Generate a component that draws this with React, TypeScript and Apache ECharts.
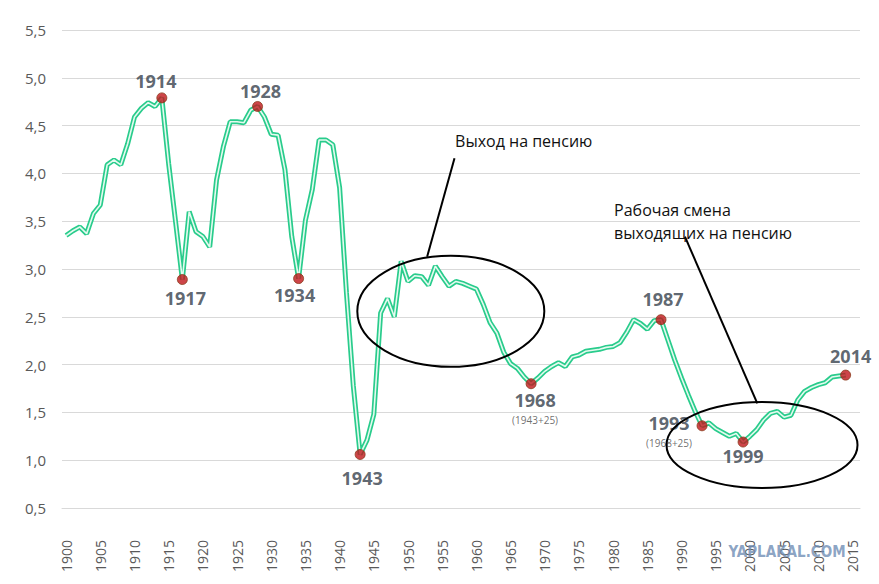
import React, { useEffect, useRef } from "react";
import * as echarts from "echarts";

const FIRST_YEAR = 1900;
const fertility = [
  3.35, 3.40, 3.44, 3.37, 3.58, 3.67, 4.09, 4.14, 4.09, 4.31, // 1900-1909
  4.59, 4.68, 4.74, 4.70, 4.79, 4.10, 3.50, 2.89, 3.60, 3.39, // 1910-1919
  3.34, 3.23, 3.93, 4.28, 4.54, 4.54, 4.53, 4.66, 4.70, 4.59, // 1920-1929
  4.41, 4.40, 4.04, 3.34, 2.90, 3.51, 3.83, 4.35, 4.35, 4.30, // 1930-1939
  3.85, 2.75, 1.78, 1.06, 1.21, 1.48, 2.54, 2.69, 2.50, 3.08, // 1940-1949
  2.87, 2.93, 2.92, 2.83, 3.03, 2.92, 2.82, 2.87, 2.85, 2.82, // 1950-1959
  2.79, 2.63, 2.44, 2.33, 2.13, 2.01, 1.96, 1.87, 1.80, 1.86, // 1960-1969
  1.93, 1.98, 2.02, 1.98, 2.08, 2.10, 2.14, 2.15, 2.16, 2.18, // 1970-1979
  2.19, 2.23, 2.34, 2.47, 2.43, 2.37, 2.46, 2.47, 2.26, 2.05, // 1980-1989
  1.86, 1.68, 1.51, 1.36, 1.39, 1.33, 1.29, 1.25, 1.28, 1.19, // 1990-1999
  1.25, 1.32, 1.42, 1.49, 1.51, 1.45, 1.47, 1.63, 1.72, 1.76, // 2000-2009
  1.79, 1.81, 1.87, 1.88, 1.89, // 2010-2014
];
const years = fertility.map((_, i) => FIRST_YEAR + i);

const highlightYears = [1914, 1917, 1928, 1934, 1943, 1968, 1987, 1993, 1999, 2014];
const highlightNotes: Record<number, string> = { 1968: "(1943+25)", 1993: "(1968+25)" };

const xTickLabels = [
  1900, 1905, 1910, 1915, 1920, 1925, 1930, 1935, 1940, 1945, 1950, 1955,
  1960, 1965, 1970, 1975, 1980, 1985, 1990, 1995, 2000, 2005, 2010, 2015,
];

const annotation1 = "Выход на пенсию";
const annotation2 = ["Рабочая смена", "выходящих на пенсию"];
const watermark = "YAPLAKAL.COM";

// label placement (style only): offset of label centre from the dot
const labelOffsets: Record<number, [number, number]> = {
  1914: [-6, -17],
  1917: [3, 18],
  1928: [3, -15],
  1934: [-4, 16],
  1943: [2, 24],
  1968: [4, 25],
  1987: [2, -21],
  1993: [-33, 6],
  1999: [0, 14],
  2014: [5, -19],
};

const FONT = "'Open Sans', 'Noto Sans', sans-serif";

export default function App() {
  const ref = useRef<HTMLDivElement>(null);
  useEffect(() => {
    if (!ref.current) return;
    const chart = echarts.init(ref.current, null, { renderer: "svg" });
    const lineData = years.map((y, i) => [y, fertility[i]]);
    const scatterData = highlightYears.map((y) => ({
      value: [y, fertility[y - FIRST_YEAR]],
      label: { offset: labelOffsets[y] },
    }));
    chart.setOption({
      animation: false,
      backgroundColor: "#ffffff",
      grid: { left: 62, right: 19, top: 30, bottom: 76 },
      xAxis: {
        type: "value",
        min: 1899.4,
        max: 2016.1,
        axisLine: { show: true, lineStyle: { color: "#d9d9d9", width: 1 } },
        axisTick: { show: false },
        splitLine: { show: false },
        axisLabel: {
          customValues: xTickLabels,
          rotate: 90,
          margin: 32,
          color: "#595959",
          fontSize: 14,
          fontFamily: FONT,
          formatter: (v: number) => String(Math.round(v)),
        },
      },
      yAxis: {
        type: "value",
        min: 0.5,
        max: 5.5,
        interval: 0.5,
        axisLine: { show: false },
        axisTick: { show: false },
        splitLine: { lineStyle: { color: "#d9d9d9", width: 1 } },
        axisLabel: {
          margin: 16,
          color: "#595959",
          fontSize: 15,
          fontFamily: FONT,
          formatter: (v: number) => v.toFixed(1).replace(".", ","),
        },
      },
      series: [
        {
          type: "line",
          data: lineData,
          symbol: "none",
          lineStyle: { color: "#29cc8c", width: 5 },
          z: 2,
        },
        {
          type: "line",
          data: lineData,
          symbol: "none",
          lineStyle: { color: "#e4faef", width: 1.6 },
          z: 3,
        },
        {
          type: "scatter",
          data: scatterData,
          symbolSize: 10,
          itemStyle: { color: "#c0161c", borderColor: "#8a3a1a", borderWidth: 1 },
          z: 5,
          label: {
            show: true,
            position: "inside",
            align: "center",
            verticalAlign: "middle",
            formatter: (p: any) => {
              const y = p.value[0];
              const note = highlightNotes[y];
              return note ? `{b|${y}}\n{s|${note}}` : `{b|${y}}`;
            },
            rich: {
              b: {
                fontSize: 18,
                fontWeight: "bold",
                color: "#36404b",
                fontFamily: FONT,
                lineHeight: 22,
                align: "center",
              },
              s: {
                fontSize: 10,
                color: "#4a4a4a",
                fontFamily: FONT,
                lineHeight: 18,
                align: "center",
              },
            },
          },
        },
      ],
    });

    const px = (x: number, y: number) =>
      chart.convertToPixel({ gridIndex: 0 }, [x, y]) as number[];
    const e1 = px(1956.26, 2.557);
    const l1a = px(1956.8, 4.158);
    const l1b = px(1952.8, 3.129);
    const t1 = px(1956.88, 4.339);
    const e2 = px(2001.77, 1.159);
    const l2a = px(1990.5, 3.338);
    const l2b = px(2001.08, 1.595);
    const t2a = px(1980.14, 3.617);
    const t2b = px(1980.14, 3.377);
    const textStyle = { fill: "#111111", fontSize: 16, fontFamily: FONT };

    chart.setOption({
      graphic: [
        {
          type: "ellipse",
          shape: { cx: e1[0], cy: e1[1], rx: 93.5, ry: 55.5 },
          style: { fill: "none", stroke: "#000000", lineWidth: 2 },
          z: 10,
        },
        {
          type: "line",
          shape: { x1: l1a[0], y1: l1a[1], x2: l1b[0], y2: l1b[1] },
          style: { stroke: "#000000", lineWidth: 2 },
          z: 10,
        },
        {
          type: "text",
          x: t1[0],
          y: t1[1],
          style: { ...textStyle, text: annotation1, align: "left", verticalAlign: "middle" },
          z: 10,
        },
        {
          type: "ellipse",
          shape: { cx: e2[0], cy: e2[1], rx: 95.5, ry: 43 },
          style: { fill: "none", stroke: "#000000", lineWidth: 2 },
          z: 10,
        },
        {
          type: "line",
          shape: { x1: l2a[0], y1: l2a[1], x2: l2b[0], y2: l2b[1] },
          style: { stroke: "#000000", lineWidth: 2 },
          z: 10,
        },
        {
          type: "text",
          x: t2a[0],
          y: t2a[1],
          style: { ...textStyle, text: annotation2[0], align: "left", verticalAlign: "middle" },
          z: 10,
        },
        {
          type: "text",
          x: t2b[0],
          y: t2b[1],
          style: { ...textStyle, text: annotation2[1], align: "left", verticalAlign: "middle" },
          z: 10,
        },
        {
          type: "text",
          x: 787,
          y: 552,
          style: {
            text: watermark,
            fill: "rgba(110,140,180,0.8)",
            fontSize: 15,
            fontWeight: "bold",
            fontFamily: "'Liberation Sans Narrow', 'DejaVu Sans Condensed', sans-serif",
            align: "center",
            verticalAlign: "middle",
          },
          z: 10,
        },
      ],
    });

    return () => chart.dispose();
  }, []);
  return (
    <div
      ref={ref}
      style={{ position: "fixed", left: 0, top: 0, width: 879, height: 584 }}
    />
  );
}
